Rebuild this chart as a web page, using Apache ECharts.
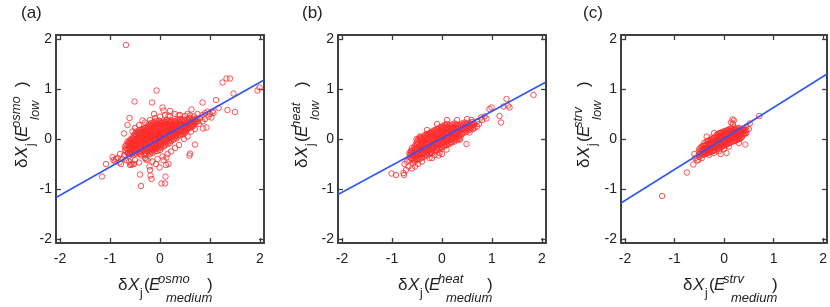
<!DOCTYPE html>
<html><head><meta charset="utf-8">
<script src="https://cdn.jsdelivr.net/npm/echarts@6/dist/echarts.min.js"></script>
<style>html,body{margin:0;padding:0;background:#fff}#c{width:830px;height:307px}</style>
</head><body><div id="c"></div>
<script>
// ---- tick labels ----
const tickValues = [-2, -1, 0, 1, 2];
const panelLabels = ['(a)', '(b)', '(c)'];
const supTexts = ['osmo', 'heat', 'strv'];

// ---- panel (a): dense core, grouped by x -> list of y ----
const coreA = [
  [-0.7, [-0.15, -0.22]],
  [-0.65, [-0.1, -0.2, -0.28, -0.05]],
  [-0.6, [-0.08, -0.16, -0.24, -0.02, -0.3]],
  [-0.55, [-0.06, -0.14, -0.22, 0.02, -0.28, -0.1]],
  [-0.5, [-0.04, -0.12, -0.2, 0.04, -0.27, -0.08, 0.1]],
  [-0.45, [-0.02, -0.1, -0.18, 0.06, -0.25, 0.12, -0.05]],
  [-0.4, [0.0, -0.08, -0.16, 0.08, -0.23, 0.14, -0.03, -0.3]],
  [-0.35, [0.02, -0.06, -0.14, 0.1, -0.21, 0.16, -0.01, 0.2]],
  [-0.3, [0.03, -0.05, -0.12, 0.11, -0.2, 0.17, 0.0, -0.28, 0.22]],
  [-0.25, [0.05, -0.03, -0.1, 0.13, -0.18, 0.19, 0.02, -0.24, 0.25]],
  [-0.2, [0.07, -0.01, -0.08, 0.15, -0.16, 0.21, 0.04, -0.22, 0.27, -0.3]],
  [-0.15, [0.09, 0.01, -0.06, 0.17, -0.14, 0.23, 0.06, -0.2, 0.29, -0.28]],
  [-0.1, [0.1, 0.02, -0.05, 0.18, -0.12, 0.24, 0.07, -0.18, 0.3, -0.25]],
  [-0.05, [0.12, 0.04, -0.03, 0.2, -0.1, 0.26, 0.09, -0.17, 0.31, -0.24]],
  [0.0, [0.14, 0.06, -0.01, 0.21, -0.08, 0.27, 0.11, -0.15, 0.33, -0.22]],
  [0.05, [0.15, 0.08, 0.0, 0.23, -0.06, 0.29, 0.12, -0.13, 0.34]],
  [0.1, [0.17, 0.09, 0.02, 0.24, -0.05, 0.3, 0.14, -0.12, 0.35]],
  [0.15, [0.19, 0.11, 0.04, 0.26, -0.03, 0.31, 0.15, -0.1]],
  [0.2, [0.2, 0.13, 0.06, 0.27, -0.01, 0.33, 0.17, -0.08]],
  [0.25, [0.22, 0.15, 0.08, 0.29, 0.01, 0.34, 0.19]],
  [0.3, [0.24, 0.16, 0.1, 0.3, 0.03, 0.36, 0.2]],
  [0.35, [0.25, 0.18, 0.12, 0.32, 0.05, 0.38]],
  [0.4, [0.27, 0.2, 0.14, 0.33, 0.07, 0.4]],
  [0.45, [0.29, 0.22, 0.16, 0.35, 0.09]],
  [0.5, [0.3, 0.24, 0.18, 0.37, 0.12]],
  [0.55, [0.32, 0.26, 0.2, 0.39]],
  [0.6, [0.34, 0.28, 0.22, 0.41]],
  [0.65, [0.36, 0.3, 0.25]],
  [0.7, [0.38, 0.32]],
  [0.75, [0.4, 0.35]]
];
const coreA2 = [
  [-0.675, [-0.12, -0.25, -0.18]],
  [-0.625, [-0.06, -0.13, -0.21, -0.27, -0.34]],
  [-0.575, [-0.04, -0.11, -0.19, -0.25, 0.0, -0.31]],
  [-0.525, [-0.02, -0.09, -0.16, -0.24, 0.07, -0.14, -0.31]],
  [-0.475, [0.01, -0.07, -0.14, -0.22, 0.09, -0.29, 0.15]],
  [-0.425, [0.03, -0.05, -0.12, -0.2, 0.11, -0.27, 0.17]],
  [-0.375, [0.05, -0.03, -0.1, -0.18, 0.13, -0.25, 0.19, -0.33]],
  [-0.325, [0.06, -0.02, -0.09, -0.16, 0.14, -0.24, 0.21, -0.31]],
  [-0.275, [0.08, 0.0, -0.07, -0.15, 0.16, -0.22, 0.23, -0.29]],
  [-0.225, [0.1, 0.02, -0.05, -0.13, 0.18, -0.2, 0.24, -0.27, 0.3]],
  [-0.175, [0.12, 0.04, -0.03, -0.11, 0.2, -0.18, 0.26, -0.25, 0.32]],
  [-0.125, [0.13, 0.05, -0.02, -0.09, 0.21, -0.16, 0.27, -0.22, 0.34]],
  [-0.075, [0.15, 0.07, 0.0, -0.07, 0.23, -0.14, 0.29, -0.2, 0.36]],
  [-0.025, [0.16, 0.08, 0.02, -0.05, 0.24, -0.12, 0.3, -0.19, 0.37]],
  [0.025, [0.18, 0.1, 0.03, -0.04, 0.26, -0.1, 0.32, -0.17]],
  [0.075, [0.19, 0.12, 0.05, -0.02, 0.27, -0.09, 0.33, -0.15]],
  [0.125, [0.21, 0.13, 0.07, 0.0, 0.28, -0.07, 0.34]],
  [0.175, [0.22, 0.15, 0.08, 0.02, 0.3, -0.05, 0.36]],
  [0.225, [0.24, 0.17, 0.1, 0.04, 0.31, -0.03, 0.37]],
  [0.275, [0.25, 0.18, 0.12, 0.06, 0.32, -0.01]],
  [0.325, [0.27, 0.2, 0.14, 0.08, 0.34, 0.01]],
  [0.375, [0.28, 0.22, 0.15, 0.09, 0.35]],
  [0.425, [0.3, 0.23, 0.17, 0.11, 0.37]],
  [0.475, [0.31, 0.25, 0.19, 0.14, 0.39]],
  [0.525, [0.33, 0.27, 0.21, 0.16]],
  [0.575, [0.35, 0.29, 0.23, 0.42]],
  [0.625, [0.37, 0.31, 0.26]],
  [0.675, [0.39, 0.33, 0.27]],
  [0.725, [0.41, 0.34]]
];
const outA = [
  [-0.68, 1.88], [-0.07, 0.97], [-0.51, 0.75], [-0.16, 0.73], [-0.61, 0.42], [-0.65, 0.28],
  [-0.72, 0.11], [-0.35, 0.37], [-0.12, 0.5], [0.05, 0.63], [0.07, 0.57], [0.2, 0.56],
  [0.13, 0.38], [0.17, 0.47], [0.37, 0.47], [0.63, 0.59], [0.85, 0.73], [1.12, 0.78],
  [1.25, 1.13], [1.33, 1.21], [1.4, 1.21], [1.47, 0.91], [1.35, 0.58], [1.5, 0.54],
  [1.95, 0.97], [1.99, 1.03], [0.97, 0.45], [1.03, 0.43], [0.93, 0.23], [0.86, 0.21],
  [0.7, -0.11], [0.6, -0.29], [0.59, -0.33], [1.17, 0.62], [1.07, 0.52],
  [-1.16, -0.75], [-1.08, -0.5], [-0.95, -0.36], [-0.93, -0.42], [-0.88, -0.4], [-0.81, -0.47],
  [-0.6, -0.52], [-0.55, -0.51], [-0.52, -0.5], [-0.4, -0.71], [-0.38, -0.94], [-0.21, -0.55],
  [-0.2, -0.62], [-0.19, -0.73], [-0.17, -0.8], [-0.08, -0.5], [-0.01, -0.57], [0.03, -0.89],
  [0.1, -0.89], [0.11, -0.75], [0.12, -0.52], [0.17, -0.5], [0.07, -0.42], [0.13, -0.37],
  [-0.28, -0.41], [-0.85, -0.38], [-0.9, -0.45], [-0.8, -0.3], [-0.75, -0.4], [-0.72, -0.33],
  [-0.78, -0.5], [-0.68, -0.42], [-0.62, -0.45], [-0.58, -0.5], [-0.5, -0.42], [-0.42, -0.47],
  [-0.3, -0.38], [-0.25, -0.42], [-0.15, -0.45], [-0.05, -0.4], [0.05, -0.35], [0.15, -0.3],
  [0.22, -0.25], [0.3, -0.18], [0.38, -0.12], [-0.55, 0.15], [-0.5, 0.22], [-0.42, 0.28],
  [-0.3, 0.33], [-0.2, 0.38], [-0.1, 0.42], [0.0, 0.45], [0.1, 0.48], [0.2, 0.45],
  [0.3, 0.5], [0.4, 0.48], [0.5, 0.46], [0.55, 0.5], [0.6, 0.47], [0.68, 0.45],
  [0.75, 0.5], [0.8, 0.42], [0.85, 0.48], [0.9, 0.52], [0.95, 0.55], [0.78, 0.3],
  [0.85, 0.35], [0.9, 0.4], [1.0, 0.5], [1.05, 0.55], [0.62, 0.15], [0.7, 0.2],
  [0.55, 0.05], [0.48, 0.0]
];
const lineA = [[-2.08, -1.17], [2.08, 1.18]];

// ---- panel (b) ----
const coreB = [
  [-0.65, [-0.35, -0.28, -0.42]],
  [-0.6, [-0.32, -0.25, -0.4, -0.18]],
  [-0.55, [-0.3, -0.22, -0.38, -0.15, -0.45]],
  [-0.5, [-0.28, -0.2, -0.35, -0.12, -0.42, -0.05]],
  [-0.45, [-0.25, -0.17, -0.33, -0.1, -0.4, -0.02, 0.03]],
  [-0.4, [-0.22, -0.15, -0.3, -0.07, -0.38, 0.0, -0.45]],
  [-0.35, [-0.2, -0.12, -0.28, -0.05, -0.35, 0.02, 0.07]],
  [-0.3, [-0.17, -0.1, -0.25, -0.02, -0.33, 0.05, 0.1]],
  [-0.25, [-0.15, -0.07, -0.22, 0.0, -0.3, 0.07, 0.12, -0.38]],
  [-0.2, [-0.12, -0.05, -0.2, 0.03, -0.28, 0.1, 0.15]],
  [-0.15, [-0.1, -0.02, -0.17, 0.05, -0.25, 0.12, 0.18, -0.32]],
  [-0.1, [-0.07, 0.0, -0.15, 0.08, -0.22, 0.15, 0.2]],
  [-0.05, [-0.05, 0.03, -0.12, 0.1, -0.2, 0.17, 0.23, -0.28]],
  [0.0, [-0.02, 0.05, -0.1, 0.12, -0.17, 0.2, 0.25]],
  [0.05, [0.0, 0.07, -0.07, 0.15, -0.15, 0.22, 0.28]],
  [0.1, [0.03, 0.1, -0.05, 0.17, -0.12, 0.24, 0.3]],
  [0.15, [0.05, 0.12, -0.02, 0.2, -0.1, 0.27]],
  [0.2, [0.08, 0.15, 0.0, 0.22, -0.07, 0.29]],
  [0.25, [0.1, 0.17, 0.03, 0.24, -0.05, 0.31]],
  [0.3, [0.13, 0.2, 0.05, 0.27, -0.02]],
  [0.35, [0.15, 0.22, 0.08, 0.29, 0.0]],
  [0.4, [0.18, 0.25, 0.1, 0.31]],
  [0.45, [0.2, 0.27, 0.13, 0.33]],
  [0.5, [0.23, 0.3, 0.15]],
  [0.55, [0.25, 0.32, 0.18]],
  [0.6, [0.28, 0.34]],
  [0.65, [0.3, 0.22]]
];
const coreB2 = [
  [-0.625, [-0.31, -0.38, -0.24]],
  [-0.575, [-0.28, -0.35, -0.21, -0.42]],
  [-0.525, [-0.26, -0.33, -0.18, -0.4, -0.1]],
  [-0.475, [-0.23, -0.3, -0.15, -0.38, -0.07, 0.0]],
  [-0.425, [-0.21, -0.28, -0.13, -0.36, -0.05, 0.02]],
  [-0.375, [-0.18, -0.26, -0.1, -0.33, -0.03, 0.05]],
  [-0.325, [-0.16, -0.23, -0.08, -0.31, 0.0, 0.08]],
  [-0.275, [-0.13, -0.21, -0.05, -0.28, 0.02, 0.1]],
  [-0.225, [-0.11, -0.18, -0.03, -0.26, 0.05, 0.12]],
  [-0.175, [-0.08, -0.16, 0.0, -0.23, 0.07, 0.15]],
  [-0.125, [-0.06, -0.13, 0.02, -0.21, 0.1, 0.17]],
  [-0.075, [-0.03, -0.11, 0.05, -0.18, 0.12, 0.2]],
  [-0.025, [-0.01, -0.08, 0.07, -0.16, 0.15, 0.22]],
  [0.025, [0.02, -0.06, 0.1, -0.13, 0.17, 0.25]],
  [0.075, [0.04, -0.03, 0.12, -0.11, 0.2, 0.27]],
  [0.125, [0.07, -0.01, 0.15, -0.08, 0.22]],
  [0.175, [0.09, 0.02, 0.17, -0.06, 0.25]],
  [0.225, [0.12, 0.04, 0.2, -0.03, 0.27]],
  [0.275, [0.14, 0.07, 0.22, 0.0, 0.29]],
  [0.325, [0.17, 0.09, 0.24, 0.02]],
  [0.375, [0.19, 0.12, 0.27, 0.05]],
  [0.425, [0.22, 0.14, 0.29]],
  [0.475, [0.24, 0.17, 0.31]],
  [0.525, [0.27, 0.2]],
  [0.575, [0.29, 0.22]],
  [0.625, [0.31, 0.25]]
];
const outB = [
  [-1.01, -0.69], [-0.92, -0.72], [-0.76, -0.72], [-0.77, -0.68], [-0.72, -0.62], [-0.67, -0.55],
  [-0.6, -0.59], [-0.54, -0.55], [-0.7, -0.45], [-0.75, -0.5], [-0.63, -0.29], [-0.58, -0.48],
  [-0.48, -0.5], [-0.51, 0.0], [-0.44, 0.05], [-0.2, -0.38], [-0.07, -0.33], [0.09, -0.21],
  [0.0, -0.3], [0.36, -0.01], [0.49, -0.1], [0.55, 0.13], [0.59, 0.38], [0.7, 0.35],
  [0.74, 0.3], [0.8, 0.38], [0.89, 0.41], [0.85, 0.45], [0.99, 0.63], [0.95, 0.6],
  [1.15, 0.46], [1.18, 0.33], [1.29, 0.8], [1.35, 0.63], [1.32, 0.67], [1.23, 0.65],
  [1.83, 0.88], [0.7, 0.25], [0.62, 0.2], [0.78, 0.43], [-0.3, 0.18], [-0.1, 0.3],
  [0.1, 0.38], [0.3, 0.38], [0.5, 0.4]
];
const lineB = [[-2.08, -1.11], [2.08, 1.14]];

// ---- panel (c) ----
const coreC = [
  [-0.5, [-0.25, -0.3, -0.2]],
  [-0.45, [-0.22, -0.28, -0.15, -0.32]],
  [-0.4, [-0.2, -0.26, -0.13, -0.3, -0.08]],
  [-0.35, [-0.18, -0.24, -0.11, -0.29, -0.05]],
  [-0.3, [-0.15, -0.22, -0.09, -0.27, -0.03, -0.32]],
  [-0.25, [-0.13, -0.19, -0.07, -0.25, -0.01, 0.03]],
  [-0.2, [-0.1, -0.17, -0.04, -0.23, 0.02, -0.28]],
  [-0.15, [-0.08, -0.15, -0.02, -0.2, 0.04, 0.08]],
  [-0.1, [-0.06, -0.12, 0.0, -0.18, 0.06, -0.24, 0.11]],
  [-0.05, [-0.03, -0.1, 0.03, -0.16, 0.08, 0.13]],
  [0.0, [-0.01, -0.07, 0.05, -0.13, 0.1, -0.2, 0.15]],
  [0.05, [0.01, -0.05, 0.07, -0.11, 0.12, 0.17]],
  [0.1, [0.04, -0.02, 0.09, -0.08, 0.14, 0.19, -0.15]],
  [0.15, [0.06, 0.0, 0.11, -0.06, 0.16, 0.21]],
  [0.2, [0.08, 0.02, 0.13, -0.04, 0.18, 0.23]],
  [0.25, [0.1, 0.04, 0.15, -0.02, 0.2]],
  [0.3, [0.12, 0.06, 0.17, 0.0, 0.22]],
  [0.35, [0.14, 0.08, 0.19, 0.03]],
  [0.4, [0.16, 0.1, 0.21]],
  [0.45, [0.18, 0.12]]
];
const coreC2 = [
  [-0.475, [-0.24, -0.29, -0.18]],
  [-0.425, [-0.21, -0.27, -0.14, -0.31]],
  [-0.375, [-0.19, -0.25, -0.12, -0.3]],
  [-0.325, [-0.17, -0.23, -0.1, -0.28, -0.04]],
  [-0.275, [-0.14, -0.2, -0.08, -0.26, -0.02]],
  [-0.225, [-0.12, -0.18, -0.05, -0.24, 0.01]],
  [-0.175, [-0.09, -0.16, -0.03, -0.22, 0.03]],
  [-0.125, [-0.07, -0.13, -0.01, -0.19, 0.05, 0.1]],
  [-0.075, [-0.04, -0.11, 0.02, -0.17, 0.07, 0.12]],
  [-0.025, [-0.02, -0.08, 0.04, -0.14, 0.09, 0.14]],
  [0.025, [0.0, -0.06, 0.06, -0.12, 0.11, 0.16]],
  [0.075, [0.03, -0.03, 0.08, -0.1, 0.13, 0.18]],
  [0.125, [0.05, -0.01, 0.1, -0.07, 0.15, 0.2]],
  [0.175, [0.07, 0.01, 0.12, -0.05, 0.17]],
  [0.225, [0.09, 0.03, 0.14, -0.03, 0.19]],
  [0.275, [0.11, 0.05, 0.16, -0.01, 0.21]],
  [0.325, [0.13, 0.07, 0.18, 0.01]],
  [0.375, [0.15, 0.09, 0.2]],
  [0.425, [0.17, 0.11]]
];
const outC = [
  [-1.25, -1.14], [-0.75, -0.67], [-0.62, -0.51], [-0.55, -0.43], [-0.5, -0.36], [-0.58, -0.38],
  [-0.52, -0.42], [-0.45, -0.38], [-0.07, -0.3], [0.05, -0.28], [0.43, -0.11], [0.52, 0.31],
  [0.71, 0.46], [0.17, 0.39], [0.2, 0.37], [0.14, 0.33], [0.18, 0.3], [0.37, 0.05],
  [0.3, -0.08], [-0.35, 0.05], [-0.2, 0.12], [0.45, 0.25], [0.5, 0.2], [-0.6, -0.3]
];
const lineC = [[-2.08, -1.28], [2.08, 1.3]];

// ---- build ----
function expand(cols) {
  const r = [];
  cols.forEach(c => c[1].forEach(y => r.push([c[0], y])));
  return r;
}
const scatterData = [
  expand(coreA).concat(expand(coreA2), outA),
  expand(coreB).concat(expand(coreB2), outB),
  expand(coreC).concat(expand(coreC2), outC)
];
const lineData = [lineA, lineB, lineC];

const FONT = '"Liberation Sans", Arial, sans-serif';
const AX = '#404040';
const gridLefts = [56, 338, 621];
const grids = gridLefts.map(l => ({ left: l, top: 35, width: 208, height: 208 }));

function axisCommon(i, pos, labels) {
  return {
    gridIndex: i, type: 'value', min: -2.08, max: 2.08, position: pos,
    axisLine: { show: true, onZero: false, lineStyle: { color: AX, width: 2 } },
    axisTick: { show: true, inside: true, length: 5, customValues: tickValues, lineStyle: { color: AX, width: 1.3 } },
    axisLabel: { show: labels, customValues: tickValues, margin: pos === 'bottom' ? 9 : 4, fontSize: 14, color: '#222', fontFamily: FONT },
    splitLine: { show: false }
  };
}
const xAxes = [], yAxes = [], series = [];
for (let i = 0; i < 3; i++) {
  xAxes.push(axisCommon(i, 'bottom', true));
  xAxes.push(axisCommon(i, 'top', false));
  yAxes.push(axisCommon(i, 'left', true));
  yAxes.push(axisCommon(i, 'right', false));
  series.push({
    type: 'scatter', xAxisIndex: 2 * i, yAxisIndex: 2 * i, data: scatterData[i],
    symbol: 'circle', symbolSize: 5.5,
    itemStyle: { color: 'rgba(0,0,0,0)', borderColor: '#ff2a2a', borderWidth: 1 },
    z: 2, silent: true
  });
  series.push({
    type: 'line', xAxisIndex: 2 * i, yAxisIndex: 2 * i, data: lineData[i],
    showSymbol: false, lineStyle: { color: '#2b55ff', width: 1.5 }, z: 3, silent: true
  });
}

// ---- titles (graphic text) ----
function t(x, y, text, size, italic) {
  return { type: 'text', x: x, y: y, style: { text: text, font: (italic ? 'italic ' : '') + size + 'px ' + FONT, fill: '#222', verticalAlign: 'middle', align: 'left' } };
}
function titleGroup(x0, y0, rot, sup, sub, closeX) {
  const m = -5.5;
  const children = [
    t(0, m, 'δ', 17, false),
    t(10, m, 'X', 17, true),
    t(22, 3, 'j', 12, false),
    t(26, m, '(', 17, false),
    t(31, m, 'E', 17, true),
    t(40, -11.5, sup, 13, true),
    t(48, 7, sub, 13, true),
    t(closeX, m, ')', 17, false)
  ];
  return { type: 'group', x: x0, y: y0, rotation: rot ? Math.PI / 2 : 0, children: children };
}
const graphics = [];
const xTitleX = [118, 398, 683];
const yTitleX = [28, 308, 590];
const labelX = [21, 302, 583];
for (let i = 0; i < 3; i++) {
  graphics.push(titleGroup(xTitleX[i], 291, false, supTexts[i], 'medium', 89));
  graphics.push(titleGroup(yTitleX[i], 168, true, supTexts[i], 'low', 81));
  graphics.push({ type: 'text', x: labelX[i], y: 13, style: { text: panelLabels[i], font: '17px ' + FONT, fill: '#222', verticalAlign: 'middle' } });
}

const chart = echarts.init(document.getElementById('c'), null, { renderer: 'canvas' });
chart.setOption({
  animation: false,
  backgroundColor: '#fff',
  grid: grids,
  xAxis: xAxes,
  yAxis: yAxes,
  series: series,
  graphic: graphics
});
</script>
</body></html>
